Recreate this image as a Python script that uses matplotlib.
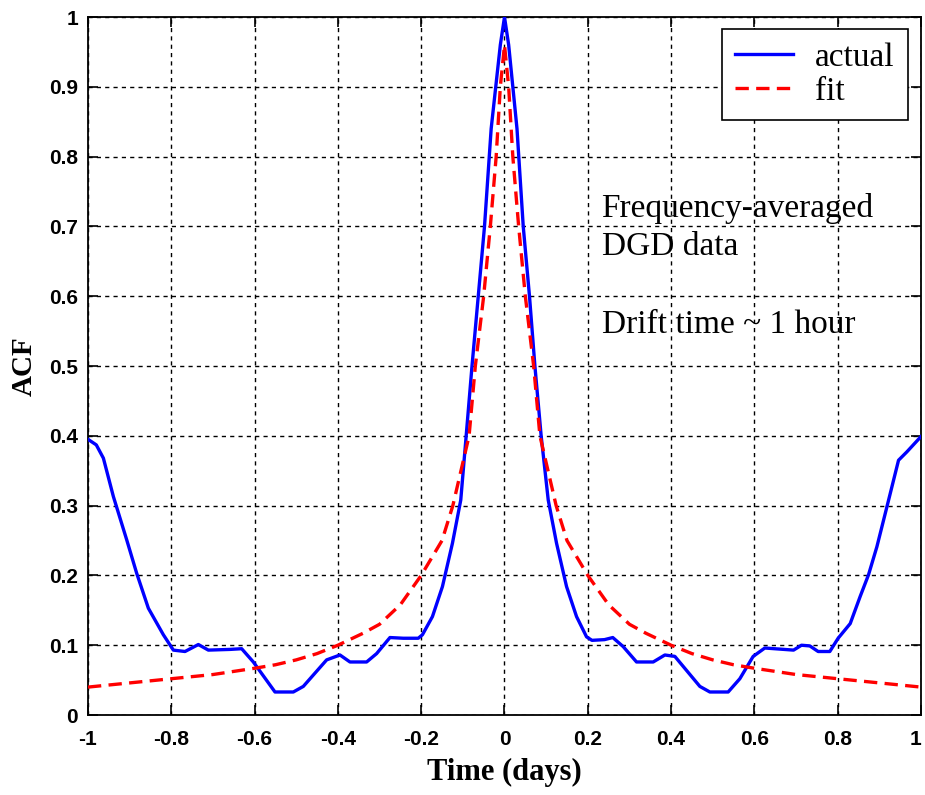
import matplotlib
matplotlib.use('Agg')
import matplotlib.pyplot as plt

# ACF data
t_actual = [-1.0, -0.98, -0.963, -0.939, -0.907, -0.883, -0.855, -0.819, -0.795,
            -0.767, -0.735, -0.711, -0.659, -0.631, -0.603, -0.551, -0.507, -0.483,
            -0.427, -0.395, -0.371, -0.331, -0.307, -0.275, -0.243, -0.207, -0.197,
            -0.173, -0.149, -0.125, -0.105, -0.092, -0.078, -0.063, -0.048, -0.032,
            -0.021, -0.01, 0.0,
            0.01, 0.02, 0.03, 0.045, 0.06, 0.073, 0.088, 0.105, 0.125, 0.149,
            0.173, 0.197, 0.21, 0.24, 0.26, 0.285, 0.317, 0.357, 0.385, 0.409,
            0.469, 0.493, 0.537, 0.565, 0.597, 0.625, 0.694, 0.713, 0.733, 0.753,
            0.781, 0.801, 0.83, 0.854, 0.874, 0.894, 0.918, 0.946, 0.966, 1.0]
acf_actual = [0.395, 0.387, 0.368, 0.313, 0.251, 0.203, 0.153, 0.115, 0.093,
              0.091, 0.101, 0.093, 0.094, 0.095, 0.076, 0.033, 0.033, 0.041,
              0.079, 0.086, 0.076, 0.076, 0.088, 0.111, 0.110, 0.110, 0.115,
              0.141, 0.184, 0.246, 0.308, 0.40, 0.50, 0.60, 0.70, 0.84,
              0.90, 0.96, 1.0,
              0.96, 0.90, 0.84, 0.70, 0.60, 0.50, 0.40, 0.308, 0.246, 0.184,
              0.141, 0.112, 0.107, 0.108, 0.111, 0.098, 0.076, 0.076, 0.086, 0.084,
              0.041, 0.033, 0.033, 0.052, 0.084, 0.096, 0.093, 0.100, 0.099, 0.091,
              0.091, 0.110, 0.131, 0.170, 0.201, 0.241, 0.298, 0.365, 0.377, 0.399]

t_fit = [-1.0, -0.9, -0.8, -0.7, -0.6, -0.55, -0.5, -0.45, -0.4, -0.34, -0.3,
         -0.25, -0.2, -0.15, -0.124, -0.085, -0.07, -0.05, -0.034, -0.02, -0.01, 0.0,
         0.01, 0.02, 0.034, 0.05, 0.07, 0.085, 0.124, 0.15, 0.2, 0.25, 0.3,
         0.34, 0.4, 0.45, 0.5, 0.55, 0.6, 0.7, 0.8, 0.9, 1.0]
acf_fit = [0.040, 0.046, 0.052, 0.058, 0.067, 0.072, 0.079, 0.088, 0.100, 0.117, 0.130,
           0.158, 0.200, 0.250, 0.300, 0.400, 0.500, 0.600, 0.700, 0.800, 0.900, 0.960,
           0.900, 0.800, 0.700, 0.600, 0.500, 0.400, 0.300, 0.250, 0.200, 0.158, 0.130,
           0.117, 0.100, 0.088, 0.079, 0.072, 0.067, 0.058, 0.052, 0.046, 0.040]

xticks = [-1, -0.8, -0.6, -0.4, -0.2, 0, 0.2, 0.4, 0.6, 0.8, 1]
xtick_labels = ['-1', '-0.8', '-0.6', '-0.4', '-0.2', '0', '0.2', '0.4', '0.6', '0.8', '1']
yticks = [0, 0.1, 0.2, 0.3, 0.4, 0.5, 0.6, 0.7, 0.8, 0.9, 1]
ytick_labels = ['0', '0.1', '0.2', '0.3', '0.4', '0.5', '0.6', '0.7', '0.8', '0.9', '1']

plt.rcParams['axes.unicode_minus'] = False

fig = plt.figure(figsize=(9.25, 7.95), dpi=100)
ax = fig.add_axes([0.0951, 0.1006, 0.9006, 0.878])

ax.plot(t_actual, acf_actual, color='#0000ff', lw=2.4, label='actual', zorder=3)
ax.plot(t_fit, acf_fit, color='#ff0000', lw=2.4, ls=(0, (4, 2.2)), label='fit', zorder=4)

ax.set_xlim(-1, 1)
ax.set_ylim(0, 1)
ax.set_xticks(xticks)
ax.set_xticklabels(xtick_labels)
ax.set_yticks(yticks)
ax.set_yticklabels(ytick_labels)

ax.grid(True, color='black', ls=(0, (3, 3)), lw=1.0)
ax.tick_params(direction='in', length=7, width=1.2, top=True, right=True)
ax.tick_params(axis='x', pad=11)
ax.tick_params(axis='y', pad=7)
for lab in ax.get_xticklabels() + ax.get_yticklabels():
    lab.set_family('Liberation Sans')
    lab.set_fontweight('bold')
    lab.set_fontsize(15)
# last x label sits at the figure edge, nudge it in a bit
ax.get_xticklabels()[-1].set_horizontalalignment('right')
for sp in ax.spines.values():
    sp.set_linewidth(1.3)

ax.set_xlabel('Time (days)', family='Liberation Serif', fontweight='bold', fontsize=22, labelpad=6)
ax.set_ylabel('ACF', family='Liberation Serif', fontweight='bold', fontsize=21, labelpad=8)

ax.text(0.233, 0.714, 'Frequency-averaged', family='Liberation Serif', fontsize=24, va='baseline')
ax.text(0.233, 0.659, 'DGD data', family='Liberation Serif', fontsize=24, va='baseline')
ax.text(0.233, 0.547, 'Drift time ~ 1 hour', family='Liberation Serif', fontsize=24, va='baseline')

leg = ax.legend(loc='upper right', bbox_to_anchor=(0.984, 0.983), borderaxespad=0,
                fancybox=False, edgecolor='black', framealpha=1,
                prop={'family': 'Liberation Serif', 'size': 24},
                handlelength=1.75, handletextpad=0.65, borderpad=0.4, labelspacing=0.1)
leg.get_frame().set_linewidth(1.2)

fig.savefig('out.png', dpi=100)
